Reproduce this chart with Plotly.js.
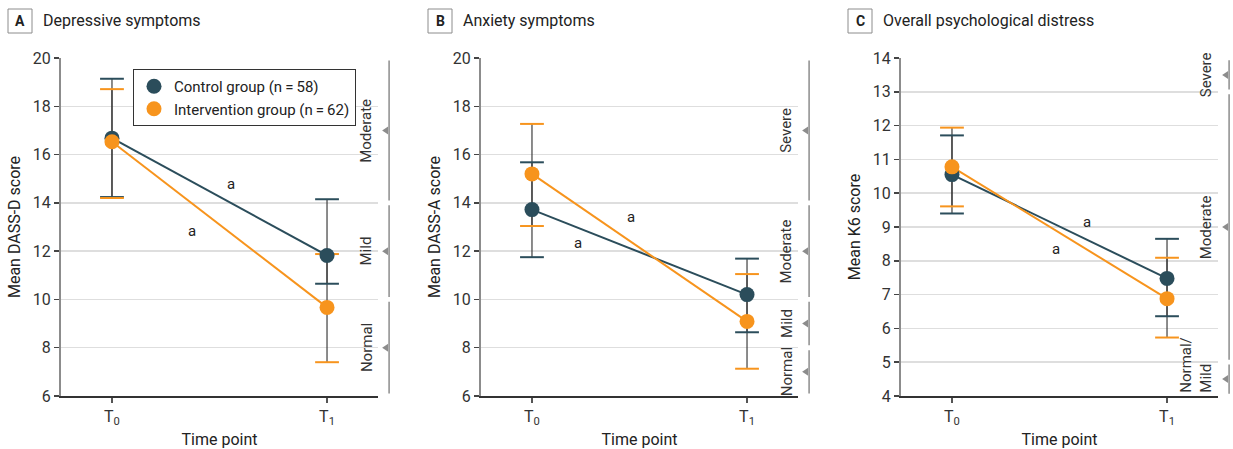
<!DOCTYPE html>
<html>
<head>
<meta charset="utf-8">
<script src="https://cdn.plot.ly/plotly-3.0.1.min.js"></script>
<style>html,body{margin:0;padding:0;background:#fff;}#chart{width:1233px;height:449px;}</style>
</head>
<body>
<div id="chart"></div>
<script>
// ---------- data ----------
const timeX = [0, 1];
const timeLabels = ['T<sub>0</sub>', 'T<sub>1</sub>'];
const controlName = 'Control group (n\u2009=\u200958)';
const interName = 'Intervention group (n\u2009=\u200962)';

// A: Depressive symptoms (DASS-D)
const depControlMean  = [16.68, 11.82];
const depControlUpper = [19.14, 14.15];
const depControlLower = [14.24, 10.65];
const depInterMean    = [16.53, 9.67];
const depInterUpper   = [18.71, 11.88];
const depInterLower   = [14.20, 7.40];
const depBandEdges  = [6, 10, 14, 20];
const depBandLabels = ['Normal', 'Mild', 'Moderate'];

// B: Anxiety symptoms (DASS-A)
const anxControlMean  = [13.72, 10.20];
const anxControlUpper = [15.68, 11.69];
const anxControlLower = [11.75, 8.64];
const anxInterMean    = [15.20, 9.09];
const anxInterUpper   = [17.27, 11.05];
const anxInterLower   = [13.04, 7.13];
const anxBandEdges  = [6, 8, 10, 14, 20];
const anxBandLabels = ['Normal', 'Mild', 'Moderate', 'Severe'];

// C: Overall psychological distress (K6)
const k6ControlMean  = [10.55, 7.48];
const k6ControlUpper = [11.71, 8.65];
const k6ControlLower = [9.40, 6.36];
const k6InterMean    = [10.78, 6.88];
const k6InterUpper   = [11.94, 8.09];
const k6InterLower   = [9.61, 5.73];
const k6BandEdges  = [4, 5, 13, 14];
const k6BandLabels = ['Normal/<br>Mild', 'Moderate', 'Severe'];

// ---------- styles ----------
const teal = '#2b4d5b';
const orange = '#f7941d';
const FONT = 'Roboto, "Open Sans", sans-serif';
const W = 1233, H = 449;
const xRange = [-0.237, 1.237];
const xDomains = [[61/W, 378/W], [481/W, 798/W], [901/W, 1218/W]];
const yDomain = [(H-396)/H, (H-58)/H];

const panels = [
  {letter:'A', title:'Depressive symptoms', ytitle:'Mean DASS-D score', yrange:[6,20], dtick:2,
   c:[depControlMean, depControlUpper, depControlLower], i:[depInterMean, depInterUpper, depInterLower],
   edges:depBandEdges, labels:depBandLabels, gap:0.1,
   aMarks:[[0.553,14.78],[0.372,12.83]]},
  {letter:'B', title:'Anxiety symptoms', ytitle:'Mean DASS-A score', yrange:[6,20], dtick:2,
   c:[anxControlMean, anxControlUpper, anxControlLower], i:[anxInterMean, anxInterUpper, anxInterLower],
   edges:anxBandEdges, labels:anxBandLabels, gap:0.1,
   aMarks:[[0.46,13.41],[0.214,12.34]]},
  {letter:'C', title:'Overall psychological distress', ytitle:'Mean K6 score', yrange:[4,14], dtick:1,
   c:[k6ControlMean, k6ControlUpper, k6ControlLower], i:[k6InterMean, k6InterUpper, k6InterLower],
   edges:k6BandEdges, labels:k6BandLabels, gap:0.07,
   aMarks:[[0.628,9.14],[0.482,8.34]]}
];

const traces = [];
const shapes = [];
const annotations = [];
const layout = {
  width: W, height: H,
  margin: {l:0, r:0, t:0, b:0},
  paper_bgcolor: '#fff', plot_bgcolor: '#fff',
  font: {family: FONT, size: 14, color: '#333'},
  showlegend: true,
  legend: {x: 133/W, y: (H-69)/H, xanchor:'left', yanchor:'top',
           bgcolor:'#fff', bordercolor:'#333', borderwidth:1,
           font:{family: FONT, size:15, color:'#222'}, tracegroupgap:0,
           itemwidth: 30}
};

panels.forEach((p, k) => {
  const n = k + 1;
  const xa = 'x' + (n === 1 ? '' : n), ya = 'y' + (n === 1 ? '' : n);
  const xKey = 'xaxis' + (n === 1 ? '' : n), yKey = 'yaxis' + (n === 1 ? '' : n);
  const series = [[p.c, teal, controlName], [p.i, orange, interName]];

  // error stems
  series.forEach(([s]) => {
    traces.push({x: timeX, y: s[0], xaxis: xa, yaxis: ya, mode: 'markers',
      marker: {size: 1, opacity: 0}, showlegend: false, hoverinfo: 'skip',
      error_y: {type: 'data', symmetric: false,
        array: s[1].map((u, j) => u - s[0][j]),
        arrayminus: s[2].map((l, j) => s[0][j] - l),
        color: 'rgba(55,55,55,0.72)', thickness: 1.6, width: 0}});
  });
  // caps
  series.forEach(([s, col]) => {
    traces.push({x: timeX.concat(timeX), y: s[1].concat(s[2]), xaxis: xa, yaxis: ya,
      mode: 'markers', showlegend: false, hoverinfo: 'skip',
      marker: {symbol: 'line-ew-open', size: 17, color: col, line: {color: col, width: 2}}});
  });
  // lines
  series.forEach(([s, col]) => {
    traces.push({x: timeX, y: s[0], xaxis: xa, yaxis: ya, mode: 'lines',
      line: {color: col, width: 2}, showlegend: false, hoverinfo: 'skip'});
  });
  // markers
  series.forEach(([s, col, name]) => {
    traces.push({x: timeX, y: s[0], xaxis: xa, yaxis: ya, mode: 'markers', name: name,
      marker: {size: 15, color: col}, showlegend: n === 1, legendgroup: name});
  });

  // severity bands
  const mids = p.labels.map((_, j) => (p.edges[j] + p.edges[j+1]) / 2);
  p.labels.forEach((lab, j) => {
    shapes.push({type: 'line', xref: xa + ' domain', yref: ya, x0: 1.035, x1: 1.035,
      y0: p.edges[j] + p.gap, y1: p.edges[j+1] - p.gap, line: {color: '#8c8c8c', width: 1.5}});
    shapes.push({type: 'path', xref: xa + ' domain', yref: ya,
      xsizemode: 'pixel', ysizemode: 'pixel', xanchor: 1.035, yanchor: mids[j],
      path: 'M-1,4 L-1,-4 L-7,0 Z', fillcolor: '#8c8c8c', line: {width: 0}});
    const isBottom = lab.indexOf('<br>') >= 0;
    annotations.push({xref: xa + ' domain', yref: ya, x: 0.998, y: isBottom ? p.edges[j] + 0.05 : mids[j],
      xanchor: 'right', yanchor: isBottom ? 'bottom' : 'middle', text: lab, textangle: -90,
      showarrow: false, align: 'left', font: {family: FONT, size: 15, color: '#333'}});
  });

  // "a" marks
  p.aMarks.forEach(([ax, ay]) => {
    annotations.push({xref: xa, yref: ya, x: ax, y: ay, text: 'a', showarrow: false,
      font: {family: FONT, size: 15, color: '#222'}});
  });

  // panel heading
  const off = [0, 420, 840][k];
  shapes.push({type: 'rect', xref: 'paper', yref: 'paper',
    x0: (off + 8) / W, x1: (off + 32) / W, y0: (H - 33) / H, y1: (H - 9) / H,
    line: {color: '#8c8c8c', width: 1}, fillcolor: '#fff'});
  annotations.push({xref: 'paper', yref: 'paper', x: (off + 20) / W, y: (H - 21) / H,
    text: '<b>' + p.letter + '</b>', showarrow: false, xanchor: 'center', yanchor: 'middle',
    font: {family: FONT, size: 14, color: '#222'}});
  annotations.push({xref: 'paper', yref: 'paper', x: (off + 41) / W, y: (H - 21) / H,
    text: p.title, showarrow: false, xanchor: 'left', yanchor: 'middle',
    font: {family: FONT, size: 16, color: '#222'}});

  layout[xKey] = {domain: xDomains[k], anchor: ya, range: xRange, tickvals: timeX, ticktext: timeLabels,
    showgrid: false, zeroline: false, showline: true, linecolor: '#333', linewidth: 1.5,
    ticks: 'outside', ticklen: 5, tickwidth: 1.5, tickcolor: '#555', fixedrange: true,
    tickfont: {family: FONT, size: 16, color: '#333'}, automargin: false,
    title: {text: 'Time point', standoff: 6, font: {family: FONT, size: 16, color: '#222'}}};
  layout[yKey] = {domain: yDomain, anchor: xa, range: p.yrange, dtick: p.dtick, tick0: p.yrange[0],
    showgrid: true, gridcolor: '#dedede', gridwidth: 1.5, zeroline: false,
    showline: true, linecolor: '#8c8c8c', linewidth: 2,
    ticks: 'outside', ticklen: 5, tickwidth: 1.5, tickcolor: '#444', fixedrange: true,
    tickfont: {family: FONT, size: 16, color: '#333'}, automargin: false,
    title: {text: p.ytitle, standoff: 8, font: {family: FONT, size: 16, color: '#222'}}};
});

layout.shapes = shapes;
layout.annotations = annotations;

Plotly.newPlot('chart', traces, layout, {displayModeBar: false, staticPlot: true});
</script>
</body>
</html>
